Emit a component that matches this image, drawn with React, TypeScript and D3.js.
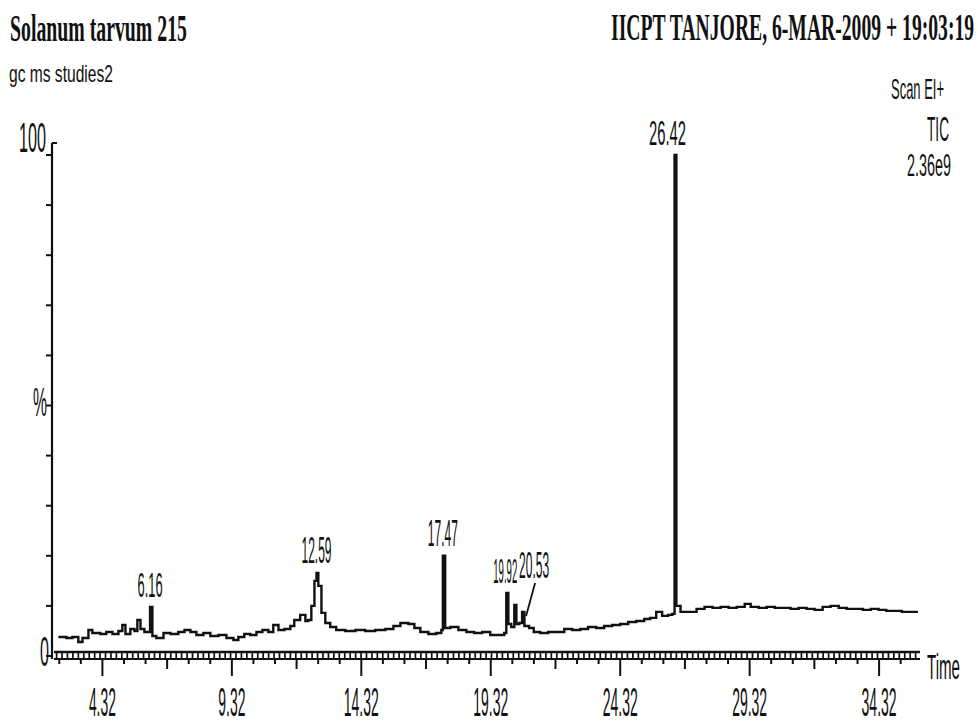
import React from "react";
import * as d3 from "d3";

// Retention time (min) and relative abundance (%)
const times: number[] = [
  2.62, 2.93, 3.16, 3.39, 3.55, 3.78, 3.93, 4.24, 4.47, 4.71, 4.94, 5.09, 5.21, 5.4, 5.56, 5.67, 5.79, 5.94, 6.1, 6.16,
  6.25, 6.4, 6.68, 6.95, 7.25, 7.49, 7.72, 7.95, 8.22, 8.49, 8.8, 9.11, 9.38, 9.57, 9.8, 10.03, 10.27, 10.5, 10.73, 10.92,
  11.12, 11.35, 11.58, 11.73, 11.96, 12.16, 12.27, 12.39, 12.51, 12.59, 12.66, 12.78, 12.93, 13.12, 13.35, 13.7, 14.09, 14.47, 14.86, 15.25,
  15.56, 15.83, 16.14, 16.37, 16.6, 16.91, 17.22, 17.41, 17.47, 17.56, 17.76, 18.07, 18.38, 18.68, 18.99, 19.3, 19.61, 19.84, 19.92, 20.0,
  20.11, 20.23, 20.31, 20.42, 20.53, 20.62, 20.8, 20.98, 21.23, 21.54, 21.85, 22.16, 22.47, 22.78, 23.08, 23.39, 23.7, 24.01, 24.32, 24.63,
  24.94, 25.25, 25.48, 25.71, 25.94, 26.17, 26.33, 26.42, 26.49, 26.65, 26.96, 27.27, 27.58, 27.89, 28.2, 28.51, 28.82, 29.13, 29.36, 29.67,
  29.98, 30.29, 30.59, 30.9, 31.21, 31.52, 31.83, 32.14, 32.45, 32.76, 33.07, 33.38, 33.69, 34.0, 34.3, 34.6, 34.9, 35.2, 35.5, 35.82,
];
const abundance: number[] = [
  3.8, 3.6, 3.8, 2.8, 3.6, 5.2, 4.6, 4.4, 4.8, 4.4, 5.0, 6.2, 4.4, 5.4, 5.0, 7.2, 5.4, 4.8, 4.8, 9.8,
  4.0, 3.6, 4.6, 4.4, 4.8, 5.2, 4.8, 4.2, 4.6, 4.0, 4.2, 3.6, 3.2, 3.8, 4.4, 4.2, 4.8, 5.2, 4.8, 6.2,
  5.2, 5.4, 6.0, 7.2, 8.2, 7.0, 7.2, 10.0, 15.0, 16.6, 14.0, 8.6, 6.6, 5.8, 5.2, 5.0, 5.2, 5.0, 5.2, 5.4,
  6.0, 6.6, 6.4, 5.6, 4.8, 4.4, 4.6, 5.2, 20.0, 5.6, 5.8, 5.2, 4.8, 4.6, 4.8, 4.2, 4.2, 4.6, 12.6, 6.4,
  5.8, 10.2, 6.4, 6.6, 8.8, 6.0, 5.6, 4.8, 4.6, 4.8, 4.8, 5.4, 5.2, 5.4, 5.8, 5.6, 6.0, 6.2, 6.4, 6.8,
  7.0, 7.4, 7.6, 8.8, 8.0, 8.2, 8.4, 100, 10.0, 8.8, 8.8, 9.4, 9.8, 9.6, 9.8, 9.6, 9.8, 10.4, 9.8, 9.6,
  9.8, 9.6, 9.6, 9.4, 9.6, 9.4, 9.2, 9.8, 10.0, 9.6, 9.4, 9.4, 9.2, 9.4, 9.2, 9.0, 9.0, 8.8, 8.8, 8.8,
];

// Labelled peaks (retention time)
const peakTimes: number[] = [6.16, 12.59, 17.47, 19.92, 20.53, 26.42];
const peakLabels: string[] = ["6.16", "12.59", "17.47", "19.92", "20.53", "26.42"];

// Axis tick labels
const xTickValues: number[] = [4.32, 9.32, 14.32, 19.32, 24.32, 29.32, 34.32];
const xTickLabels: string[] = ["4.32", "9.32", "14.32", "19.32", "24.32", "29.32", "34.32"];
const yTickValues: number[] = [0, 10, 20, 30, 40, 50, 60, 70, 80, 90, 100];

const titleLeft = "Solanum tarvum 215";
const titleRight = "IICPT TANJORE, 6-MAR-2009 + 19:03:19";
const subtitle = "gc ms studies2";
const infoLines: string[] = ["Scan EI+", "TIC", "2.36e9"];

const W = 978;
const H = 728;
const INK = "#111";
const SANS = "'Liberation Sans Narrow', 'Liberation Sans', Arial, sans-serif";
const SERIF = "'Liberation Serif', 'Times New Roman', serif";

let measureCtx: CanvasRenderingContext2D | null = null;
function measure(text: string, font: string): number {
  if (!measureCtx) {
    const c = document.createElement("canvas");
    measureCtx = c.getContext("2d");
  }
  if (!measureCtx) return text.length * 10;
  measureCtx.font = font;
  return measureCtx.measureText(text).width;
}

type CTextProps = {
  text: string;
  x: number;
  y: number;
  width: number;
  size: number;
  anchor?: "start" | "middle" | "end";
  family?: string;
  weight?: string;
};

// Condensed text: scaled horizontally to the given width
function CText({ text, x, y, width, size, anchor = "start", family = SANS, weight = "normal" }: CTextProps) {
  const nat = measure(text, `${weight} ${size}px ${family}`) || 1;
  const sx = width / nat;
  const left = anchor === "start" ? x : anchor === "middle" ? x - width / 2 : x - width;
  return (
    <text
      transform={`translate(${left},${y}) scale(${sx},1)`}
      fontFamily={family}
      fontWeight={weight}
      fontSize={size}
      fill={INK}
    >
      {text}
    </text>
  );
}

export default function App() {
  const x = d3.scaleLinear().domain([2.45, 35.9]).range([54, 920]);
  const y = d3.scaleLinear().domain([0, 100]).range([656, 155]);

  const pts: [number, number][] = times.map((t, i) => [t, abundance[i]]);
  const line = d3
    .line<[number, number]>()
    .x((d) => x(d[0]))
    .y((d) => y(d[1]))
    .curve(d3.curveStepAfter);
  const path = line(pts) || "";

  const valueAt = (t: number) => {
    let best = 0;
    let bd = Infinity;
    times.forEach((tt, i) => {
      const dd = Math.abs(tt - t);
      if (dd < bd) {
        bd = dd;
        best = i;
      }
    });
    return abundance[best];
  };

  const [x0, x1] = x.domain();
  const step = 5 / 6;
  const minorTicks: { t: number; kind: number }[] = [];
  for (let k = -3; k <= 40; k++) {
    const t = 4.32 + k * step;
    if (t < x0 || t > x1) continue;
    const kind = k % 6 === 0 ? 2 : k % 3 === 0 ? 1 : 0;
    minorTicks.push({ t, kind });
  }
  const hatch: number[] = [];
  for (let t = x0 + 0.1; t < x1; t += 0.21) hatch.push(t);

  const axisTop = 652;
  const axisBot = 659;

  const labelWidth: Record<string, number> = {};
  peakLabels.forEach((l) => {
    labelWidth[l] = l.length === 4 ? 25 : 30;
  });

  return (
    <svg
      width={W}
      height={H}
      viewBox={`0 0 ${W} ${H}`}
      style={{ position: "absolute", left: 0, top: 0, background: "#fff" }}
    >
      <rect x={0} y={0} width={W} height={H} fill="#fff" />

      {/* titles */}
      <CText text={titleLeft} x={10} y={41} width={177} size={38} family={SERIF} weight="bold" />
      <CText text={titleRight} x={611} y={40} width={364} size={37} family={SERIF} weight="bold" />
      <CText text={subtitle} x={9} y={82} width={104} size={23} />

      {/* info lines on right */}
      <CText text={infoLines[0]} x={944} y={99} width={53} size={29} anchor="end" />
      <CText text={infoLines[1]} x={949} y={141} width={22} size={36} anchor="end" />
      <CText text={infoLines[2]} x={951} y={176} width={44} size={31} anchor="end" />

      {/* y axis */}
      <line x1={52} x2={52} y1={y(100) - 12} y2={axisBot} stroke={INK} strokeWidth={2.2} />
      <line x1={52} x2={57} y1={y(100) - 12} y2={y(100) - 12} stroke={INK} strokeWidth={2} />
      {yTickValues.map((v) => (
        <line key={"yt" + v} x1={46} x2={52} y1={y(v)} y2={y(v)} stroke={INK} strokeWidth={2} />
      ))}
      <CText text="100" x={46} y={152} width={27} size={42} anchor="end" />
      <CText text="%" x={47} y={416} width={14} size={40} anchor="end" />
      <CText text="0" x={49} y={666} width={9} size={42} anchor="end" />

      {/* x axis band */}
      <line x1={54} x2={920} y1={axisTop} y2={axisTop} stroke={INK} strokeWidth={2.5} />
      <line x1={54} x2={920} y1={axisBot} y2={axisBot} stroke={INK} strokeWidth={2.2} />
      {hatch.map((t, i) => (
        <line key={"h" + i} x1={x(t)} x2={x(t)} y1={axisTop} y2={axisBot} stroke={INK} strokeWidth={1.7} />
      ))}
      {minorTicks.map((m, i) => (
        <line key={"m" + i} x1={x(m.t)} x2={x(m.t)} y1={axisBot}
          y2={axisBot + (m.kind === 2 ? 17 : m.kind === 1 ? 10 : 5)} stroke={INK} strokeWidth={2} />
      ))}
      {xTickValues.map((t, i) => (
        <CText key={"xl" + i} text={xTickLabels[i]} x={x(t)} y={716}
          width={xTickLabels[i].length === 4 ? 27 : 35} size={40} anchor="middle" />
      ))}
      <CText text="Time" x={927} y={679} width={33} size={36} />

      {/* trace */}
      <path d={path} fill="none" stroke={INK} strokeWidth={2.4} strokeLinejoin="miter" />

      {/* peak labels */}
      {peakTimes.map((t, i) => {
        const lab = peakLabels[i];
        const px = x(t);
        const top = y(valueAt(t));
        const lead = lab === "20.53";
        const lx = lead ? px + 12 : lab === "26.42" ? px - 7 : lab === "19.92" ? px - 1 : px;
        const by = lead ? top - 34 : top - 10;
        const w = lab === "26.42" ? 37 : lab === "19.92" ? 24 : labelWidth[lab];
        return (
          <g key={"p" + i}>
            <CText text={lab} x={lx} y={by} width={w} size={36} anchor="middle" />
            {lead && (
              <line x1={lx + 1} y1={by + 5} x2={px + 4} y2={top + 4} stroke={INK} strokeWidth={1.8} />
            )}
          </g>
        );
      })}
    </svg>
  );
}
